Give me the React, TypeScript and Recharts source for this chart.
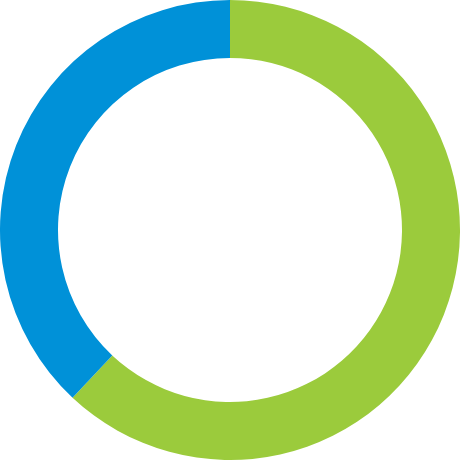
import { PieChart, Pie, Cell } from "recharts";

// share of the ring, clockwise from 12 o'clock
const segments = ["Green", "Blue"];
const shares = [62, 38];
const COLORS = ["#9BCB3C", "#0091D8"];

const data = segments.map((name, i) => ({ name, value: shares[i] }));

export default function App() {
  return (
    <div style={{ position: "fixed", left: 0, top: 0, width: 460, height: 460, background: "#fff" }}>
      <PieChart width={460} height={460} margin={{ top: 0, right: 0, bottom: 0, left: 0 }}>
        <Pie
          data={data}
          dataKey="value"
          nameKey="name"
          cx={230}
          cy={230}
          outerRadius={230}
          innerRadius={172}
          startAngle={90}
          endAngle={-270}
          stroke="none"
          isAnimationActive={false}
        >
          {data.map((d, i) => (
            <Cell key={d.name} fill={COLORS[i]} />
          ))}
        </Pie>
      </PieChart>
    </div>
  );
}
